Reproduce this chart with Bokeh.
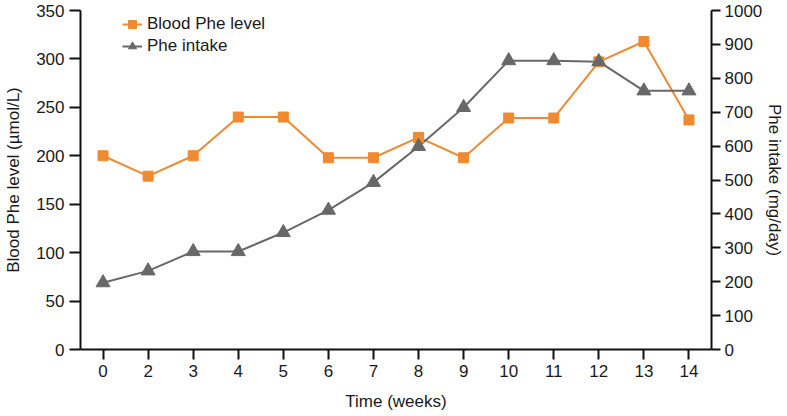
from bokeh.plotting import figure
from bokeh.models import Range1d, FactorRange, LinearAxis, FixedTicker, Legend
from bokeh.embed import file_html
from bokeh.resources import INLINE

weeks = ["0", "2", "3", "4", "5", "6", "7", "8", "9", "10", "11", "12", "13", "14"]
blood_phe = [200, 179, 200, 240, 240, 198, 198, 219, 198, 239, 239, 297, 318, 237]
phe_intake = [197, 232, 289, 289, 345, 411, 493, 599, 714, 852, 852, 849, 763, 763]
left_ticks = [0, 50, 100, 150, 200, 250, 300, 350]
right_ticks = [0, 100, 200, 300, 400, 500, 600, 700, 800, 900, 1000]

ORANGE = "#EF8A30"
GRAY = "#686868"
FONT = "Liberation Sans"
FS = "17px"

p = figure(width=787, height=416, x_range=FactorRange(*weeks, range_padding=0),
           y_range=Range1d(0, 350), output_backend="svg", toolbar_location=None,
           min_border_left=80, min_border_right=70, min_border_top=10, min_border_bottom=67)
p.extra_y_ranges = {"right": Range1d(0, 1000)}
p.outline_line_color = None
p.xgrid.grid_line_color = None
p.ygrid.grid_line_color = None
p.background_fill_color = "white"

r1 = p.line(weeks, blood_phe, line_color=ORANGE, line_width=2)
r2 = p.line(weeks, phe_intake, line_color=GRAY, line_width=2, y_range_name="right")
r3 = p.scatter(weeks, blood_phe, marker="square", size=10, fill_color=ORANGE, line_color=ORANGE)
r4 = p.scatter(weeks, phe_intake, marker="triangle", size=14, fill_color=GRAY, line_color=GRAY,
               y_range_name="right")

right_axis = LinearAxis(y_range_name="right")
p.add_layout(right_axis, "right")

p.yaxis[0].ticker = FixedTicker(ticks=left_ticks)
right_axis.ticker = FixedTicker(ticks=right_ticks)

for ax in [p.xaxis[0], p.yaxis[0], right_axis]:
    ax.axis_line_width = 2
    ax.axis_line_color = "#111111"
    ax.major_tick_line_width = 2
    ax.major_tick_line_color = "#111111"
    ax.major_tick_in = 0
    ax.minor_tick_line_color = None
    ax.major_label_text_font = FONT
    ax.major_label_text_font_size = FS
    ax.major_label_text_color = "#1a1a1a"
    ax.major_label_standoff = 5
    ax.axis_label_text_font = FONT
    ax.axis_label_text_font_size = FS
    ax.axis_label_text_font_style = "normal"
    ax.axis_label_text_color = "#1a1a1a"

p.xaxis[0].major_tick_out = 10
p.yaxis[0].major_tick_out = 11
right_axis.major_tick_out = 9
right_axis.major_label_standoff = 4

p.xaxis[0].axis_label = "Time (weeks)"
p.yaxis[0].axis_label = "Blood Phe level (µmol/L)"
right_axis.axis_label = "Phe intake (mg/day)"
p.xaxis[0].axis_label_standoff = 12
p.yaxis[0].axis_label_standoff = 10
right_axis.axis_label_standoff = 0

legend = Legend(items=[("Blood Phe level", [r1, r3]), ("Phe intake", [r2, r4])],
                location=(42, 293), border_line_color=None, background_fill_alpha=0,
                padding=0, margin=0, spacing=2, glyph_width=20, glyph_height=20,
                label_standoff=5, label_text_font=FONT, label_text_font_size=FS,
                label_text_color="#1a1a1a")
p.add_layout(legend)

open("out.html", "w").write(file_html(p, INLINE))
